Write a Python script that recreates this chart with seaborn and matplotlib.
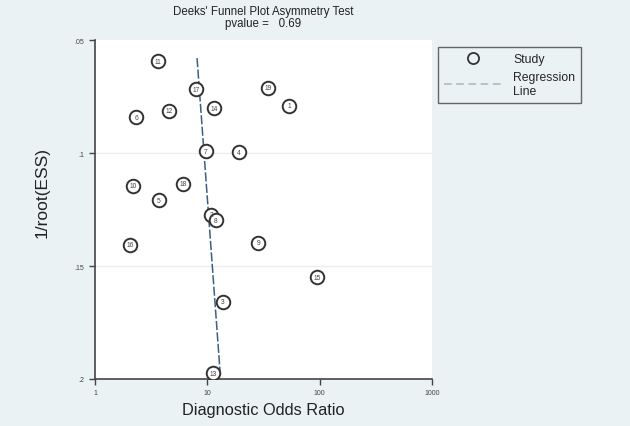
import matplotlib
matplotlib.use("Agg")
import matplotlib.pyplot as plt
from matplotlib.lines import Line2D
import pandas as pd
import seaborn as sns

# study points
study_ids = ["11", "17", "14", "12", "6", "19", "1", "7", "4", "10",
             "18", "5", "2", "8", "16", "9", "15", "3", "13"]
dor = [3.61, 7.93, 11.5, 4.56, 2.32, 34.7, 53.3, 9.73, 19.1, 2.18,
       6.07, 3.71, 10.8, 11.9, 2.05, 28.3, 94.7, 13.8, 11.2]
inv_root_ess = [0.0594, 0.0717, 0.0801, 0.0814, 0.0841, 0.0712, 0.0792, 0.0993, 0.0996, 0.1146,
                0.1137, 0.1208, 0.1274, 0.1297, 0.1407, 0.1398, 0.1549, 0.1659, 0.1974]

# regression line end points
reg_dor = [8.1, 12.97]
reg_ess = [0.058, 0.1965]

x_ticks = [1, 10, 100, 1000]
x_tick_labels = ["1", "10", "100", "1000"]
y_ticks = [0.05, 0.1, 0.15, 0.2]
y_tick_labels = [".05", ".1", ".15", ".2"]

bg = "#eaf2f3"
sns.set_theme(style="white")
plt.rcParams["font.family"] = ["Liberation Sans", "DejaVu Sans"]

df = pd.DataFrame({"dor": dor, "ess": inv_root_ess, "id": study_ids})
reg = pd.DataFrame({"dor": reg_dor, "ess": reg_ess})

fig = plt.figure(figsize=(6.3, 4.27), dpi=100, facecolor=bg)
ax = fig.add_axes([95 / 630, 47 / 427, 337 / 630, 339 / 427])
ax.set_facecolor("white")

ax.set_xscale("log")
ax.set_xlim(1, 1000)
ax.set_ylim(0.2, 0.05)

# grid at inner y ticks only
for yv in [0.1, 0.15]:
    ax.axhline(yv, color="#e6eef0", lw=1.0, zorder=0)

sns.lineplot(data=reg, x="dor", y="ess", ax=ax, color="#3d5f83", lw=1.1,
             linestyle=(0, (6, 1.5)), sort=False, estimator=None, zorder=2)
sns.scatterplot(data=df, x="dor", y="ess", ax=ax, s=95, marker="o",
                facecolor="white", edgecolor="#333333", linewidth=1.4, zorder=3)
for _, r in df.iterrows():
    ax.text(r["dor"], r["ess"], r["id"], fontsize=4.8, ha="center", va="center",
            color="#444444", zorder=4)

ax.set_xticks(x_ticks)
ax.set_xticklabels(x_tick_labels)
ax.minorticks_off()
ax.set_yticks(y_ticks)
ax.set_yticklabels(y_tick_labels)
ax.tick_params(axis="both", which="major", direction="out", length=4.5, width=1.0,
               color="#444444", labelsize=5, labelcolor="#444444", pad=3,
               bottom=True, left=True)
for side in ["top", "right"]:
    ax.spines[side].set_visible(False)
for side in ["left", "bottom"]:
    ax.spines[side].set_color("#444444")
    ax.spines[side].set_linewidth(1.2)

ax.set_xlabel("Diagnostic Odds Ratio", fontsize=11.8, color="#222222", labelpad=4)
ax.set_ylabel("1/root(ESS)", fontsize=12.5, color="#222222")
ax.yaxis.set_label_coords(-(95 - 50) / 337, (380 - 193) / 339)

fig.text(263.5 / 630, 1 - 12.5 / 427, "Deeks' Funnel Plot Asymmetry Test",
         ha="center", va="center", fontsize=8.3, color="#222222")
fig.text(263.5 / 630, 1 - 23.5 / 427, "pvalue =   0.69",
         ha="center", va="center", fontsize=8.3, color="#222222")

handles = [
    Line2D([], [], marker="o", linestyle="none", markersize=8, markerfacecolor="none",
           markeredgecolor="#333333", markeredgewidth=1.3),
    Line2D([], [], color="#a9b4bc", lw=1.1, linestyle=(0, (5, 3))),
]
leg = fig.legend(handles, ["Study", "Regression\nLine"],
                 loc="upper left", bbox_to_anchor=(438 / 630, 1 - 48 / 427),
                 borderaxespad=0, fontsize=8.8, frameon=True, fancybox=False,
                 handlelength=4.75, handletextpad=0.9, borderpad=0.5, labelspacing=0.5)
leg.get_frame().set_edgecolor("#444444")
leg.get_frame().set_facecolor(bg)
leg.get_frame().set_linewidth(1.0)

fig.savefig("out.png", dpi=100, facecolor=bg)
